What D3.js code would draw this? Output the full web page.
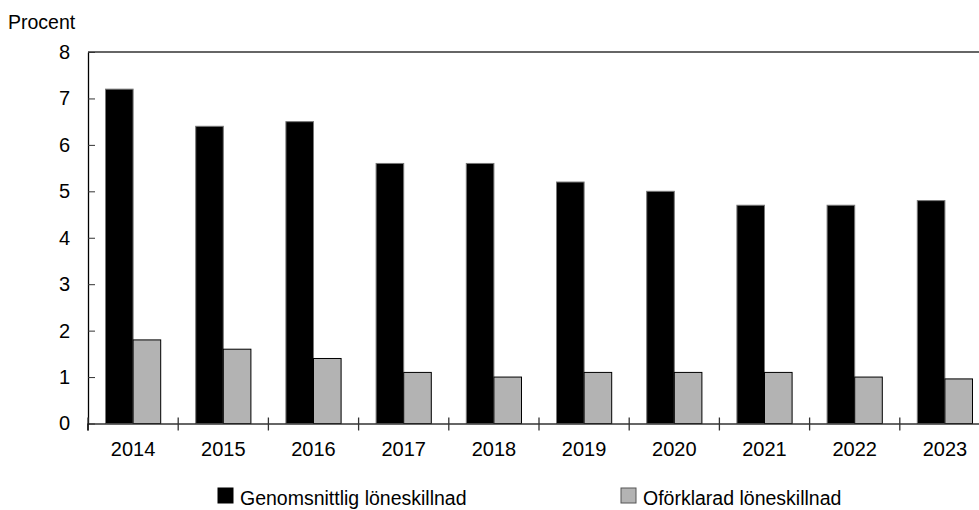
<!DOCTYPE html>
<html>
<head>
<meta charset="utf-8">
<script src="https://cdn.jsdelivr.net/npm/d3@7"></script>
<style>
  html, body { margin: 0; padding: 0; background: #fff; }
  svg { display: block; font-family: "Liberation Sans", Arial, sans-serif; }
</style>
</head>
<body>
<svg id="chart"></svg>
<script>
var width = 979;
var height = 510;

// data
var years = ["2014", "2015", "2016", "2017", "2018", "2019", "2020", "2021", "2022", "2023"];
var genomsnittlig = [7.2, 6.4, 6.5, 5.6, 5.6, 5.2, 5.0, 4.7, 4.7, 4.8];
var oforklarad = [1.8, 1.6, 1.4, 1.1, 1.0, 1.1, 1.1, 1.1, 1.0, 0.96];
var seriesNames = ["Genomsnittlig löneskillnad", "Oförklarad löneskillnad"];
var yTicks = [0, 1, 2, 3, 4, 5, 6, 7, 8];

var plotLeft = 88, plotTop = 52, plotBottom = 423.5;
var step = 90.2;

var svg = d3.select("#chart")
            .attr("width", width)
            .attr("height", height);

var x = d3.scaleBand()
          .domain(years)
          .range([plotLeft, plotLeft + step * years.length]);

var x1 = d3.scaleBand()
           .domain([0, 1])
           .range([17.5, step - 17.5]);

var y = d3.scaleLinear()
          .domain([0, 8])
          .range([plotBottom, plotTop]);

var rows = years.map(function (yr, i) {
  return { year: yr, values: [genomsnittlig[i], oforklarad[i]] };
});

var fills = ["#000000", "#b3b3b3"];
var strokes = ["#777777", "#000000"];

// bars
var groups = svg.selectAll("g.year")
  .data(rows)
  .enter()
  .append("g")
    .attr("class", "year")
    .attr("transform", d => "translate(" + x(d.year) + ",0)");

groups.selectAll("rect")
  .data(d => d.values.map((v, k) => ({ k: k, v: v })))
  .enter()
  .append("rect")
    .attr("x", d => x1(d.k))
    .attr("y", d => y(d.v))
    .attr("width", x1.bandwidth())
    .attr("height", d => y(0) - y(d.v))
    .attr("fill", d => fills[d.k])
    .attr("stroke", d => strokes[d.k])
    .attr("stroke-width", 1);

// top border line
svg.append("line")
    .attr("x1", plotLeft)
    .attr("x2", width)
    .attr("y1", y(8))
    .attr("y2", y(8))
    .attr("stroke", "#333")
    .attr("stroke-width", 1.5);

// y axis
var yAxis = d3.axisLeft(y)
              .tickValues(yTicks)
              .tickSizeInner(-7)
              .tickSizeOuter(0)
              .tickPadding(18)
              .tickFormat(d3.format("d"));

var gy = svg.append("g")
    .attr("transform", "translate(" + plotLeft + ",0)")
    .call(yAxis);
gy.select(".domain").attr("stroke", "#000").attr("stroke-width", 1.3);
gy.selectAll(".tick line").attr("stroke", "#333");
gy.selectAll("text")
    .attr("font-size", "20px")
    .attr("fill", "#000");

// x axis
var xAxis = d3.axisBottom(x)
              .tickSize(0)
              .tickPadding(18);

var gx = svg.append("g")
    .attr("transform", "translate(0," + plotBottom + ")")
    .call(xAxis);
gx.select(".domain").attr("stroke", "#333").attr("stroke-width", 1.5);
gx.selectAll("text")
    .attr("font-size", "20px")
    .attr("fill", "#000");

// category boundary ticks
svg.selectAll("line.xtick")
  .data(years)
  .enter()
  .append("line")
    .attr("class", "xtick")
    .attr("x1", d => x(d))
    .attr("x2", d => x(d))
    .attr("y1", plotBottom - 6)
    .attr("y2", plotBottom + 7)
    .attr("stroke", "#333")
    .attr("stroke-width", 1.3);

svg.append("line")
    .attr("x1", plotLeft)
    .attr("x2", plotLeft)
    .attr("y1", plotBottom)
    .attr("y2", plotBottom + 7)
    .attr("stroke", "#000")
    .attr("stroke-width", 1.3);

// unit label
svg.append("text")
    .attr("x", 8)
    .attr("y", 29)
    .attr("font-size", "19.5px")
    .text("Procent");

// legend
var legendX = [218, 621];
var legend = svg.selectAll("g.legend")
  .data(seriesNames)
  .enter()
  .append("g")
    .attr("class", "legend")
    .attr("transform", (d, i) => "translate(" + legendX[i] + ",488)");

legend.append("rect")
    .attr("width", 15)
    .attr("height", 15)
    .attr("fill", (d, i) => fills[i])
    .attr("stroke", (d, i) => i === 0 ? "#000" : "#555");

legend.append("text")
    .attr("x", 22)
    .attr("y", 16.5)
    .attr("font-size", "19.5px")
    .text(d => d);
</script>
</body>
</html>
